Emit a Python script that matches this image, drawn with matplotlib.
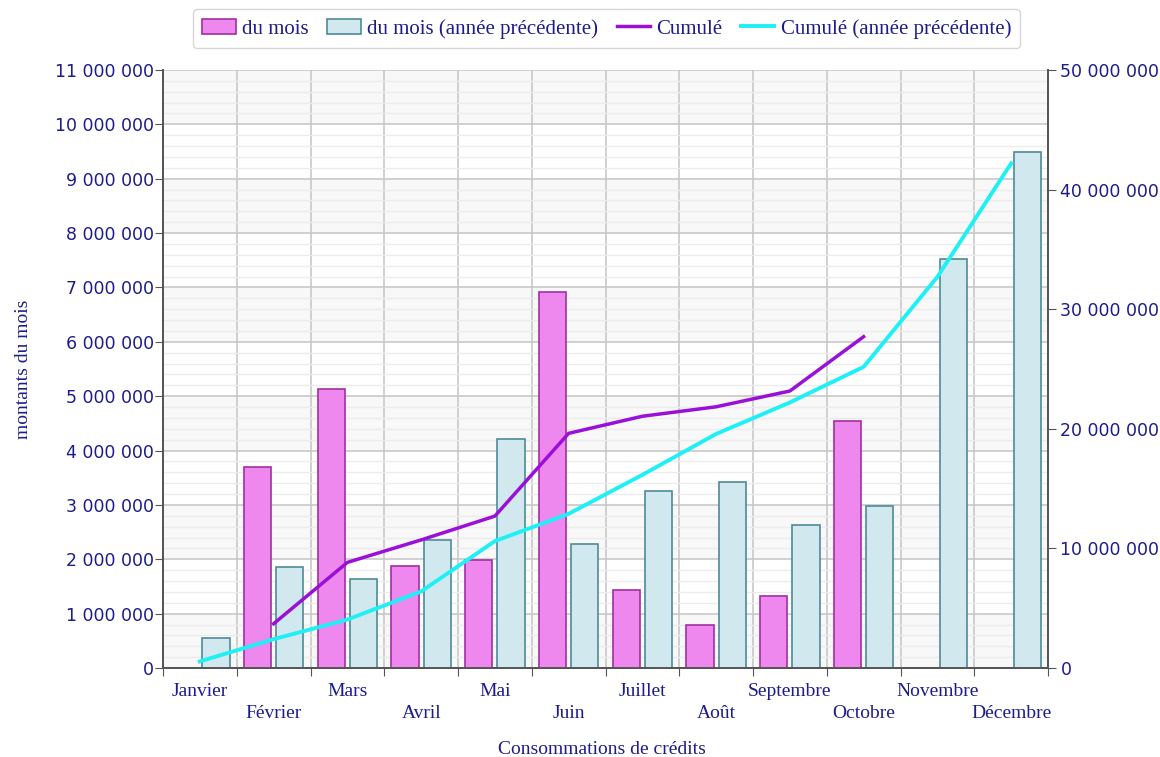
import numpy as np
import matplotlib
matplotlib.use("Agg")
import matplotlib.pyplot as plt
from matplotlib.ticker import FuncFormatter, MultipleLocator

# =========================
# DATA
# =========================
months = ["Janvier", "Février", "Mars", "Avril", "Mai", "Juin",
          "Juillet", "Août", "Septembre", "Octobre", "Novembre", "Décembre"]

# monthly amounts (current year, None = no data)
du_mois = [None, 3700000, 5130000, 1880000, 1990000, 6920000,
           1430000, 790000, 1320000, 4540000, None, None]
# monthly amounts (previous year)
du_mois_prec = [550000, 1860000, 1640000, 2350000, 4210000, 2280000,
                3260000, 3420000, 2630000, 2980000, 7520000, 9490000]
# cumulative (current year)
cumule = [None, 3700000, 8830000, 10710000, 12700000, 19620000,
          21050000, 21840000, 23160000, 27700000, None, None]
# cumulative (previous year)
cumule_prec = [550000, 2410000, 4050000, 6400000, 10610000, 12890000,
               16150000, 19570000, 22200000, 25180000, 32700000, 42190000]

TXT = "#1c1c8c"
SERIF = "Liberation Serif"

# =========================
# PLOT
# =========================
fig = plt.figure(figsize=(11.6, 7.57), dpi=100)
ax = fig.add_axes([163/1160, 1 - 668/757, (1048-163)/1160, (668-70)/757])
ax2 = ax.twinx()

x = np.arange(len(months))

# alternating background bands
for k in range(0, 11):
    if k % 2 == 0:
        ax.axhspan(k*1e6, (k+1)*1e6, color="#f8f8f8", zorder=0, lw=0)

# grid
ax.yaxis.set_major_locator(MultipleLocator(1e6))
ax.yaxis.set_minor_locator(MultipleLocator(2e5))
ax.grid(which="minor", axis="y", color="#ececec", lw=1, zorder=1)
ax.grid(which="major", axis="y", color="#c8c8c8", lw=1.2, zorder=1)
for b in np.arange(-0.5, 12, 1):
    ax.axvline(b, color="#c8c8c8", lw=1.2, zorder=1)

# bars
pink = [np.nan if v is None else v for v in du_mois]
ax.bar(x - 0.22, pink, width=0.37, color="#ee88ee", edgecolor="#a030a0",
       lw=1.2, zorder=3, label="du mois")
ax.bar(x + 0.22, du_mois_prec, width=0.37, color="#d2e8ef", edgecolor="#4e8a98",
       lw=1.2, zorder=3, label="du mois (année précédente)")

# cumulative lines
cum = np.array([np.nan if v is None else v for v in cumule], dtype=float)
ax2.plot(x, cum, color="#9a10d8", lw=2.5, zorder=4, label="Cumulé")
ax2.plot(x, cumule_prec, color="#1ef0f5", lw=2.8, zorder=4,
         label="Cumulé (année précédente)")

ax.set_xlim(-0.5, 11.5)
ax.set_ylim(0, 11e6)
ax2.set_ylim(0, 50e6)
ax2.yaxis.set_major_locator(MultipleLocator(10e6))

fmt = FuncFormatter(lambda v, p: "0" if v == 0 else f"{int(v):,}".replace(",", " "))
ax.yaxis.set_major_formatter(fmt)
ax2.yaxis.set_major_formatter(fmt)

# x ticks: boundaries as major ticks, month names as minor labels
ax.set_xticks(np.arange(-0.5, 12, 1))
ax.set_xticklabels([])
ax.set_xticks(x, minor=True)
ax.set_xticklabels([m if i % 2 == 0 else "\n" + m for i, m in enumerate(months)],
                   minor=True, fontfamily=SERIF, fontsize=14, color=TXT,
                   linespacing=1.4)
ax.tick_params(axis="x", which="minor", length=0, pad=11)
ax.tick_params(axis="x", which="major", direction="out", length=6, color="#555555")
ax.tick_params(axis="y", which="major", direction="out", length=6, color="#555555",
               labelsize=12.5, labelcolor=TXT, pad=0.5)
ax.tick_params(axis="y", which="minor", length=0)
ax2.tick_params(axis="y", direction="out", length=6, color="#555555",
                labelsize=12.5, labelcolor=TXT, pad=3)

for a in (ax, ax2):
    a.spines["top"].set_visible(False)
    for s in ("left", "right", "bottom"):
        a.spines[s].set_color("#555555")
        a.spines[s].set_linewidth(1.3)

ax.set_ylabel("montants du mois", fontfamily=SERIF, fontsize=14, color=TXT)
ax.yaxis.set_label_coords(-0.148, 0.5)
fig.text(602/1160, 1 - 749/757, "Consommations de crédits", fontfamily=SERIF,
         fontsize=14, color=TXT, ha="center", va="center")

# legend
h1, l1 = ax.get_legend_handles_labels()
h2, l2 = ax2.get_legend_handles_labels()
leg = fig.legend(h1 + h2, l1 + l2, loc="upper center", bbox_to_anchor=(0.523, 0.993),
                 ncol=4, frameon=True, fancybox=True, edgecolor="#cccccc",
                 prop={"family": SERIF, "size": 15}, handlelength=1.6,
                 handletextpad=0.3, columnspacing=0.9, borderpad=0.45,
                 borderaxespad=0.2)
for t in leg.get_texts():
    t.set_color(TXT)

fig.savefig("out.png", dpi=100)
